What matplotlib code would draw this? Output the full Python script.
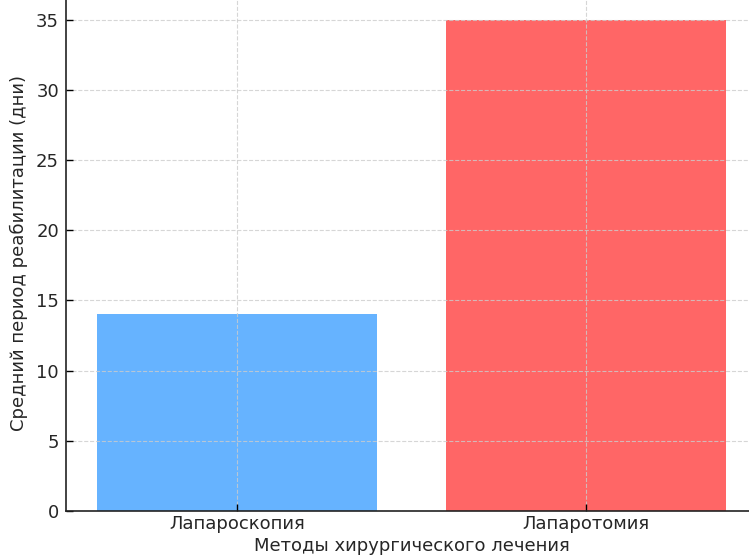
import matplotlib.pyplot as plt

# data
methods = ['Лапароскопия', 'Лапаротомия']
rehab_days = [14, 35]
colors = ['#66b3ff', '#ff6666']

fig = plt.figure(figsize=(7.49, 5.59), dpi=100)
# axes runs slightly past the top and right edge, like the cropped original
ax = fig.add_axes([66 / 749, 48 / 559, 691 / 749, 516 / 559])

ax.bar(methods, rehab_days, color=colors, width=0.8)
ax.set_ylim(0, 36.75)
ax.set_xlim(-0.49, 1.49)

ax.set_xlabel('Методы хирургического лечения', fontsize=13, labelpad=3, color='#262626')
ax.set_ylabel('Средний период реабилитации (дни)', fontsize=13, labelpad=6, color='#262626')
ax.tick_params(labelsize=13, direction='in', length=5, width=1, pad=5, labelcolor='#262626')
ax.tick_params(axis='x', pad=3)
# grid and ticks sit on top of the bars in the original
ax.grid(True, linestyle='--', color='#cccccc', linewidth=0.8, alpha=0.8)
ax.set_axisbelow('line')

for side in ['top', 'right']:
    ax.spines[side].set_visible(False)
for side in ['left', 'bottom']:
    ax.spines[side].set_linewidth(1.2)
    ax.spines[side].set_color('#222222')

fig.savefig('out.png', dpi=100)
